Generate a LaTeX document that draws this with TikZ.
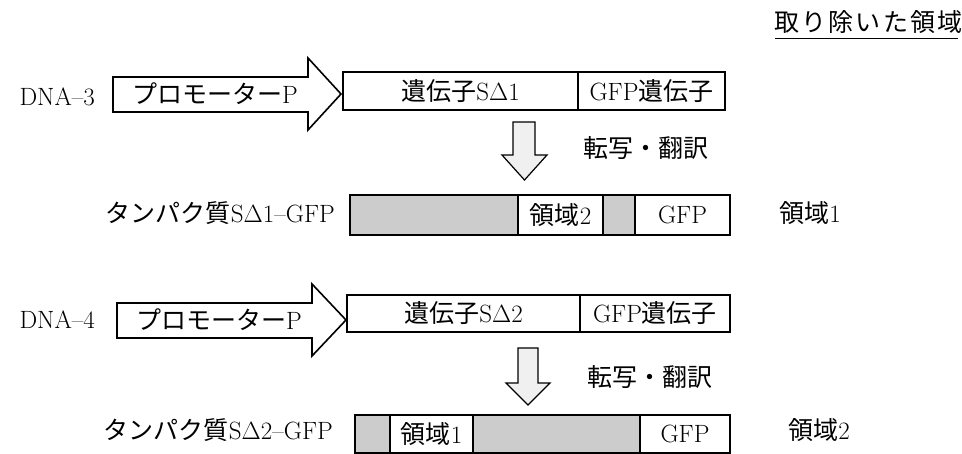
\documentclass[tikz,border=0pt]{standalone}
\usepackage{fontspec}
\newfontfamily\jp{Noto Sans CJK JP}
\newfontfamily\jpwide[LetterSpace=9]{Noto Sans CJK JP}
\usetikzlibrary{positioning}

\begin{document}
\begin{tikzpicture}[x=1pt,y=-1pt,
  txt/.style={inner sep=0pt,font=\fontsize{25}{29}\selectfont},
  part/.style={txt,draw,line width=1.6pt,outer sep=0pt,minimum height=38pt},
  dark part/.style={part,fill=gray!40},
  promo/.style={draw,line width=1.6pt,fill=white,line join=miter},
  down/.style={draw,line width=1.2pt,fill=gray!12}]
 \useasboundingbox (0,0) rectangle (962,454);

 \node[txt,anchor=west] (title) at (774,22) {\jpwide 取り除いた領域};
 \draw[line width=1pt] (775,39) -- (958,39);

 % DNA-3
 \node[txt,anchor=east] (dna3) at (95,97) {DNA--3};
 \draw[promo] (113,77) -- (308,77) -- (308,58) -- (341,94) -- (308,130) -- (308,112) -- (113,112) -- cycle;
 \node[txt] (prom3) at (215,94) {{\jp プロモーター}P};
 \node[part,minimum width=235pt,anchor=west] (gene1) at (343,91) {{\jp 遺伝子}S$\Delta$1};
 \node[part,minimum width=147pt] (gfpg1) [right=0pt of gene1] {GFP{\jp 遺伝子}};
 \draw[down] (513,122) -- (535,122) -- (535,155) -- (547,155) -- (524.5,180) -- (502,155) -- (513,155) -- cycle;
 \node[txt] (tl1) at (646,148) {\jp 転写・翻訳};

 \node[txt,anchor=east] (prot1) at (335,213) {{\jp タンパク質}S$\Delta$1--GFP};
 \node[dark part,minimum width=168pt,minimum height=40pt,anchor=west] (s1a) at (350,215) {};
 \node[part,minimum width=85pt,minimum height=40pt] (reg2) [right=0pt of s1a] {{\jp 領域}2};
 \node[dark part,minimum width=32pt,minimum height=40pt] (s1b) [right=0pt of reg2] {};
 \node[part,minimum width=95pt,minimum height=40pt] (gfp1) [right=0pt of s1b] {GFP};
 \node[txt] (del1) at (810,213) {{\jp 領域}1};

 % DNA-4
 \node[txt,anchor=east] (dna4) at (95,320) {DNA--4};
 \draw[promo] (117,303) -- (312,303) -- (312,284) -- (346,320) -- (312,356) -- (312,338) -- (117,338) -- cycle;
 \node[txt] (prom4) at (219,320) {{\jp プロモーター}P};
 \node[part,minimum width=233pt,minimum height=37pt,anchor=west] (gene2) at (347,313.5) {{\jp 遺伝子}S$\Delta$2};
 \node[part,minimum width=150pt,minimum height=37pt] (gfpg2) [right=0pt of gene2] {GFP{\jp 遺伝子}};
 \draw[down] (518,348) -- (538,348) -- (538,383) -- (550,383) -- (528,405) -- (506,383) -- (518,383) -- cycle;
 \node[txt] (tl2) at (650,377) {\jp 転写・翻訳};

 \node[txt,anchor=east] (prot2) at (333,430) {{\jp タンパク質}S$\Delta$2--GFP};
 \node[dark part,minimum width=35pt,anchor=west] (s2a) at (355,434) {};
 \node[part,minimum width=83pt] (reg1) [right=0pt of s2a] {{\jp 領域}1};
 \node[dark part,minimum width=167pt] (s2b) [right=0pt of reg1] {};
 \node[part,minimum width=90pt] (gfp2) [right=0pt of s2b] {GFP};
 \node[txt] (del2) at (819,430) {{\jp 領域}2};

\end{tikzpicture}
\end{document}
